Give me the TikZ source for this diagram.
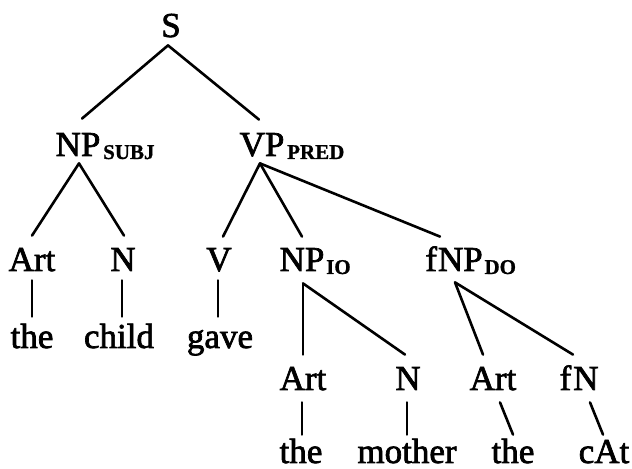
\documentclass[tikz,border=0pt]{standalone}
\usepackage{fontspec}
\newfontfamily\treefont[FakeBold=2]{Liberation Serif}
\newfontfamily\subfont[FakeBold=1]{Liberation Serif Bold}
\usetikzlibrary{calc}

\begin{document}
\begin{tikzpicture}[x=0.5pt,y=0.5pt,yscale=-1,xscale=1,
  tag/.style={font=\treefont\fontsize{17.5}{17.5}\selectfont, inner sep=0pt, text height=11.5pt, text depth=0pt, anchor=base},
  subtag/.style={font=\subfont\fontsize{10.5}{10.5}\selectfont, inner sep=0pt, anchor=base west},
  branch/.style={line width=1.3pt, line cap=round}]
\useasboundingbox (0,0) rectangle (632,469);

% Text Node: root
\node[tag] (s) at (171,37) {S};
% Text Node: level 1
\node[tag] (npsubj) at (78,156) {NP};
\node[subtag] (npsubj-s) at ($(npsubj.base east)+(2,3)$) {SUBJ};
\node[tag] (vppred) at (262,156) {VP};
\node[subtag] (vppred-s) at ($(vppred.base east)+(2,3)$) {PRED};
% Text Node: level 2
\node[tag] (artone) at (32,271) {Art};
\node[tag] (none) at (123,271) {N};
\node[tag] (v) at (219,271) {V};
\node[tag] (npio) at (302,271) {NP};
\node[subtag] (npio-s) at ($(npio.base east)+(1,3)$) {IO};
\node[tag] (fnpdo) at (454,271) {f\kern0.5pt NP};
\node[subtag] (fnpdo-s) at ($(fnpdo.base east)+(1,3)$) {DO};
% Text Node: words under level 2
\node[tag] (theone) at (32,348) {the};
\node[tag] (child) at (119,348) {child};
\node[tag] (gave) at (220,348) {gave};
% Text Node: level 3
\node[tag] (arttwo) at (303,390) {Art};
\node[tag] (ntwo) at (408,390) {N};
\node[tag] (artthree) at (493,390) {Art};
\node[tag] (fn) at (579,390) {f\kern1pt N};
% Text Node: words under level 3
\node[tag] (thetwo) at (301,463) {the};
\node[tag] (mother) at (407,463) {mother};
\node[tag] (thethree) at (513,463) {the};
\node[tag] (catword) at (604,463) {cAt};

% S branches
\draw[branch] ($(s.south)+(-3,8)$) -- ($(npsubj.north)+(4,-14)$);
\draw[branch] ($(s.south)+(-3,8)$) -- ($(vppred.north)+(-3,-13)$);
% NP_SUBJ branches
\draw[branch] ($(npsubj.south)+(1,7)$) -- ($(artone.north)+(0,-12)$);
\draw[branch] ($(npsubj.south)+(1,7)$) -- ($(none.north)+(1,-12)$);
% VP_PRED branches
\draw[branch] ($(vppred.south)+(-2,7)$) -- ($(v.north)+(4,-11)$);
\draw[branch] ($(vppred.south)+(-2,7)$) -- ($(npio.north)+(0,-11)$);
\draw[branch] ($(vppred.south)+(-2,7)$) -- ($(fnpdo.north)+(-14,-11)$);
% leaves
\draw[branch] ($(artone.south)+(0,9)$) -- ($(theone.north)+(0,-8)$);
\draw[branch] ($(none.south)+(-1,9)$) -- ($(child.north)+(3,-8)$);
\draw[branch] ($(v.south)+(-1,9)$) -- ($(gave.north)+(-2,-8)$);
% NP_IO branches
\draw[branch] ($(npio.south)+(1,12)$) -- ($(arttwo.north)+(0,-12)$);
\draw[branch] ($(npio.south)+(1,12)$) -- ($(ntwo.north)+(-3,-12)$);
% fNP_DO branches
\draw[branch] ($(fnpdo.south)+(1,11)$) -- ($(artthree.north)+(-10,-12)$);
\draw[branch] ($(fnpdo.south)+(1,11)$) -- ($(fn.north)+(-6,-12)$);
% leaves
\draw[branch] ($(arttwo.south)+(-1,12)$) -- ($(thetwo.north)+(1,-5)$);
\draw[branch] ($(ntwo.south)+(-1,12)$) -- ($(mother.north)+(0,-5)$);
\draw[branch] ($(artthree.south)+(7,12)$) -- ($(thethree.north)+(0,-5)$);
\draw[branch] ($(fn.south)+(11,12)$) -- ($(catword.north)+(-1,-5)$);

\end{tikzpicture}
\end{document}
